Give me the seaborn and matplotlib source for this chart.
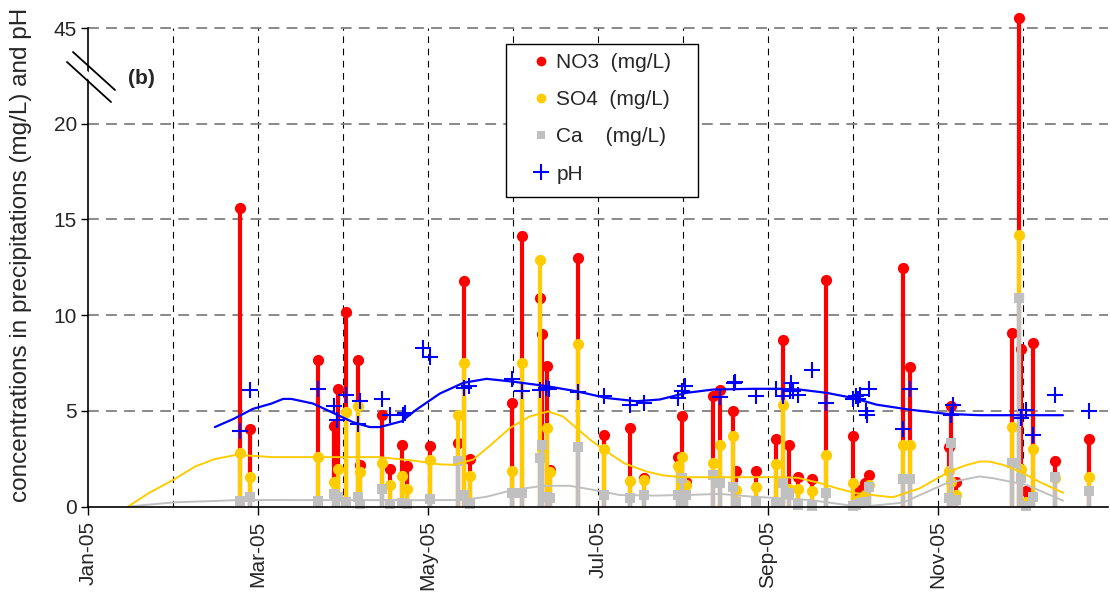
import numpy as np
import pandas as pd
import matplotlib
matplotlib.use("Agg")
import matplotlib.pyplot as plt
import seaborn as sns
from matplotlib.lines import Line2D
from matplotlib.patches import Rectangle, Polygon

# ---------------- data (x = days since 1 Jan 2005) ----------------
sample_day = [54.5, 58, 82.3, 88, 89.4, 92.3, 96.7, 97.3, 105.3, 108.2, 112.3, 114,
              122.4, 132.5, 134.4, 136.6, 151.8, 155.3, 161.7, 162.4, 164.4, 165.3,
              175.3, 184.5, 193.8, 198.8, 211.3, 212.5, 214, 223.7, 226, 230.9, 232,
              239, 246.1, 248.8, 251, 253.9, 258.9, 264, 273.9, 275, 276.2, 278,
              279.5, 291.7, 294, 308.1, 308.7, 310.5, 330.5, 333.2, 334, 335.8,
              338.2, 346, 358.3]
no3 = [15.6, 4.05, 7.63, 4.19, 6.15, 10.14, 7.63, 2.18, 4.8, 1.95, 3.23, 2.09,
       3.14, 3.32, 11.8, 2.48, 5.41, 14.12, 10.87, 9.0, 7.34, 1.9,
       12.97, 3.73, 4.1, 1.48, 2.61, 4.71, 1.3, 5.76, 6.08, 5.01, 1.83,
       1.86, 3.55, 8.68, 3.23, 1.53, 1.44, 11.83, 3.66, 0.51, 0.87, 1.25,
       1.65, 12.44, 7.3, 3.09, 5.27, 1.3, 9.09, 47.5, 8.25, 0.83,
       8.56, 2.39, 3.54]
so4 = [2.8, 1.55, 2.6, 1.3, 1.97, 4.92, 5.24, 1.78, 2.27, 1.13, 1.57, 0.92,
       2.44, 4.8, 7.51, 1.57, 1.86, 7.51, 12.88, 3.0, 4.1, 1.8,
       8.47, 3.02, 1.34, 1.38, 2.1, 2.61, 1.1, 2.27, 3.23, 3.66, 0.87,
       1.04, 2.2, 5.29, 0.9, 0.9, 0.83, 2.7, 1.25, 0.3, 0.4, 0.6,
       1.13, 3.19, 3.19, 1.83, 1.3, 0.6, 4.15, 14.21, 1.97, 0.25,
       3.0, 1.5, 1.53]
ca = [0.3, 0.48, 0.3, 0.65, 0.52, 0.25, 0.52, 0.13, 0.92, 0.11, 0.2, 0.13,
      0.38, 2.4, 0.6, 0.13, 0.72, 0.72, 2.53, 3.2, 0.51, 0.43,
      3.1, 0.6, 0.43, 0.6, 0.6, 1.48, 0.6, 1.65, 1.25, 1.0, 0.25,
      0.25, 0.2, 1.25, 0.69, 0.1, 0.03, 0.72, 0.03, 0.1, 0.2, 0.25,
      1.0, 1.43, 1.43, 0.43, 3.32, 0.35, 2.27, 10.87, 1.48, 0.03,
      0.51, 1.53, 0.83]

ph_day = [54.5, 58, 82.3, 88, 89, 92.3, 96.5, 97.3, 105.3, 108, 112.7, 113.6,
          120, 122.4, 134.4, 136.4, 151.8, 155.3, 161.7, 164, 165, 175.3,
          184.5, 193.8, 198.8, 211.3, 212.5, 213.8, 226, 231.3, 231.7, 239,
          246.2, 248.8, 251.1, 251.7, 252.3, 254, 258.9, 264, 273.9, 275,
          276.2, 275.6, 279.5, 278.3, 278.8, 291.7, 294, 308.7, 309.5,
          333.8, 335.8, 338.2, 346, 358.3]
ph = [3.96, 6.08, 6.15, 5.27, 4.54, 5.85, 4.33, 5.53, 5.64, 4.77, 4.77, 4.89,
      8.26, 7.83, 6.2, 6.29, 6.64, 6.02, 6.11, 6.2, 6.15, 5.99,
      5.76, 5.32, 5.41, 5.67, 6.02, 6.29, 5.73, 6.46, 6.52, 5.76,
      6.15, 5.76, 6.02, 6.46, 6.02, 5.8, 7.11, 5.41, 5.64, 5.76,
      5.85, 5.6, 6.15, 4.97, 4.8, 4.05, 6.15, 4.8, 5.32,
      4.63, 5.06, 3.75, 5.81, 4.97]

so4_trend_day = [14.4, 21.6, 30.5, 38.3, 45.4, 53.1, 66.2, 80.5, 104.3, 116.3, 125.9,
                 131, 137.8, 144, 151, 158, 164.7, 170, 174.8, 180, 185.5, 192,
                 199.8, 206, 212.9, 226, 247.6, 254, 262, 268, 275, 288, 297.6,
                 308.3, 314, 319, 322.6, 328, 333.4, 341, 348.9]
so4_trend = [0, 0.69, 1.39, 2.09, 2.48, 2.7, 2.58, 2.58, 2.58, 2.4, 2.2,
             2.18, 2.45, 3.2, 4.1, 4.7, 4.97, 4.7, 4.1, 3.45, 2.88, 2.25,
             1.83, 1.62, 1.53, 1.53, 1.53, 1.5, 1.22, 0.95, 0.69, 0.48, 0.95,
             1.83, 2.15, 2.35, 2.35, 2.15, 1.83, 1.25, 0.72]

ph_trend_day = [45.4, 52, 59, 65.7, 69.8, 72.8, 80.5, 87.7, 94.9, 100.8, 104.4, 112.2,
                117.5, 125.9, 134.3, 142.6, 152.2, 164.1, 174.8, 185.5, 196.2, 204.6,
                214.2, 223.7, 238, 247.6, 254.7, 264.2, 273.8, 282.2, 294, 307.2,
                319, 335.8, 348.9]
ph_trend = [4.15, 4.57, 5.1, 5.38, 5.62, 5.62, 5.38, 4.89, 4.4, 4.15, 4.15, 4.45,
            5.06, 5.9, 6.46, 6.67, 6.52, 6.29, 6.02, 5.67, 5.5, 5.59,
            5.94, 6.11, 6.15, 6.15, 6.11, 5.94, 5.67, 5.32, 5.06, 4.84,
            4.77, 4.77, 4.77]

ca_trend_day = [14.4, 31.1, 45.4, 54.4, 118.8, 134.3, 142.6, 152.2, 163, 172.5, 180.8,
                190.3, 202.2, 214.2, 226.1, 238, 247.6, 258.3, 273.8, 279.7, 291.6,
                307.2, 319, 323.8, 335.8, 348.9]
ca_trend = [0, 0.22, 0.29, 0.34, 0.33, 0.34, 0.51, 0.87, 1.08, 1.08, 0.87,
            0.6, 0.57, 0.6, 0.66, 0.51, 0.43, 0.34, 0.03, 0.03, 0.2,
            1.22, 1.57, 1.48, 1.13, 0.31]

month_labels = ["Jan-05", "Mar-05", "May-05", "Jul-05", "Sep-05", "Nov-05"]
y_ticks = [0, 5, 10, 15, 20, 45]
legend_labels = ["NO3  (mg/L)", "SO4  (mg/L)", "Ca    (mg/L)", "pH"]
ylabel = "concentrations in precipitations (mg/L) and pH"

# ---------------- style ----------------
sns.set_theme(style="white")
plt.rcParams["font.family"] = ["Liberation Sans", "DejaVu Sans"]
FS = 15

RED, YEL, GRY, BLU = "#FF0000", "#FFCC00", "#C0C0C0", "#0000FF"

W, H = 1110, 595
fig = plt.figure(figsize=(W / 100, H / 100), dpi=100)
fig.patch.set_facecolor("white")
ax = fig.add_axes([88 / W, 1 - 506.5 / H, 1020 / W, 478.5 / H])
ax.set_facecolor("white")


def fwd(y):
    y = np.asarray(y, dtype=float)
    return np.where(y <= 20, y, 20 + (y - 20) / 5.0)


def inv(z):
    z = np.asarray(z, dtype=float)
    return np.where(z <= 20, z, 20 + (z - 20) * 5.0)


ax.set_yscale("function", functions=(fwd, inv))
ax.set_xlim(0, 365)
ax.set_ylim(0, 45)

# grid
for k in range(1, 12):
    ax.axvline(k * 365 / 12, color="black", lw=0.8, ls=(0, (6, 5)), zorder=0.5)
for v in [5, 10, 15, 20, 45]:
    ax.axhline(v, color="#808080", lw=1.3, ls=(0, (6, 4)), zorder=0.6, clip_on=False)

df = pd.DataFrame({"day": sample_day, "no3": no3, "so4": so4, "ca": ca})
dph = pd.DataFrame({"day": ph_day, "ph": ph})

# stems
ax.vlines(df["day"], 0, df["no3"], colors=RED, lw=3.0, zorder=3, clip_on=False)
sns.scatterplot(data=df, x="day", y="no3", ax=ax, color=RED, s=65, marker="o",
                linewidth=0, zorder=3.1, clip_on=False, legend=False)
ax.vlines(df["day"], 0, df["so4"], colors=YEL, lw=3.0, zorder=4)
sns.scatterplot(data=df, x="day", y="so4", ax=ax, color=YEL, s=65, marker="o",
                linewidth=0, zorder=4.1, clip_on=False, legend=False)
ax.vlines(df["day"], 0, df["ca"], colors=GRY, lw=3.0, zorder=5)
sns.scatterplot(data=df, x="day", y="ca", ax=ax, color=GRY, s=50, marker="s",
                linewidth=0, zorder=5.1, clip_on=False, legend=False)

# trend curves
sns.lineplot(x=so4_trend_day, y=so4_trend, ax=ax, color=YEL, lw=1.4,
             estimator=None, sort=False, zorder=5.5)
sns.lineplot(x=ca_trend_day, y=ca_trend, ax=ax, color=GRY, lw=1.4,
             estimator=None, sort=False, zorder=5.4)
sns.lineplot(x=ph_trend_day, y=ph_trend, ax=ax, color=BLU, lw=1.6,
             estimator=None, sort=False, zorder=5.6)

# pH
sns.scatterplot(data=dph, x="day", y="ph", ax=ax, color=BLU, s=130, marker="+",
                linewidth=1.5, zorder=6, legend=False)

# axes cosmetics
ax.set_xticks([k * 365 / 6 for k in range(6)])
ax.set_xticklabels(month_labels, rotation=90, fontsize=FS)
ax.set_yticks(y_ticks)
ax.set_yticklabels([str(t) for t in y_ticks], fontsize=FS)
ax.yaxis.set_minor_locator(matplotlib.ticker.NullLocator())
ax.tick_params(axis="x", which="major", direction="out", length=6, width=1,
               color="black", pad=4, bottom=True)
ax.tick_params(axis="y", which="major", direction="out", length=5, width=1,
               color="black", pad=3, left=True)
ax.set_xlabel("")
ax.set_ylabel(ylabel, fontsize=17.5)
ax.yaxis.set_label_coords(-0.055, 0.5256)
for s in ["top", "right"]:
    ax.spines[s].set_visible(False)
for s in ["left", "bottom"]:
    ax.spines[s].set_color("black")
    ax.spines[s].set_linewidth(1.2)
    ax.spines[s].set_zorder(7)

# axis break marks
fig.patches.append(Polygon([(73 / W, 1 - 58 / H), (115 / W, 1 - 96 / H),
                            (111 / W, 1 - 100 / H), (69 / W, 1 - 62 / H)],
                           closed=True, transform=fig.transFigure,
                           facecolor="white", edgecolor="none", zorder=8))
fig.lines.append(Line2D([73 / W, 115 / W], [1 - 52 / H, 1 - 90 / H],
                        transform=fig.transFigure, color="black", lw=1.3, zorder=9))
fig.lines.append(Line2D([67 / W, 111 / W], [1 - 62 / H, 1 - 102 / H],
                        transform=fig.transFigure, color="black", lw=1.3, zorder=9))
fig.text(128 / W, 1 - 78 / H, "(b)", fontsize=FS, fontweight="bold", va="center",
         ha="left")

# legend
fig.patches.append(Rectangle((506 / W, 1 - 197 / H), 192 / W, 153 / H,
                             transform=fig.transFigure, facecolor="white",
                             edgecolor="black", lw=1.0, zorder=1))
handles = [
    Line2D([], [], ls="none", marker="o", color=RED, markersize=7, mew=0),
    Line2D([], [], ls="none", marker="o", color=YEL, markersize=7, mew=0),
    Line2D([], [], ls="none", marker="s", color=GRY, markersize=6, mew=0),
    Line2D([], [], ls="none", marker="+", color=BLU, markersize=11, mew=1.5),
]
fig.legend(handles, legend_labels, loc="upper left",
           bbox_to_anchor=(531 / W, 1 - 53 / H), bbox_transform=fig.transFigure,
           frameon=False, fontsize=FS, borderpad=0, handlelength=1.0,
           handletextpad=0.22, labelspacing=0.875, borderaxespad=0)

fig.savefig("out.png", dpi=100)
